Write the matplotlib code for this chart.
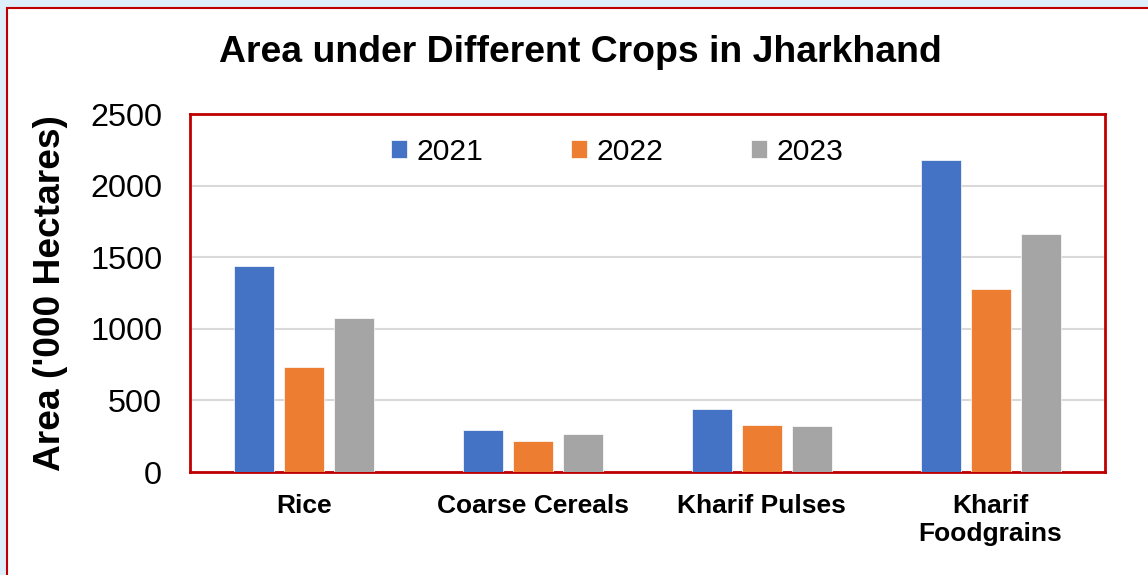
import matplotlib
matplotlib.use("Agg")
import matplotlib.pyplot as plt
import numpy as np
from matplotlib.patches import Rectangle

categories = ["Rice", "Coarse Cereals", "Kharif Pulses", "Kharif\nFoodgrains"]
years = ["2021", "2022", "2023"]
v2021 = [1440, 290, 443, 2177]
v2022 = [735, 214, 331, 1278]
v2023 = [1078, 263, 321, 1660]
colors = ["#4472C4", "#ED7D31", "#A5A5A5"]
yticks = [0, 500, 1000, 1500, 2000, 2500]

plt.rcParams['font.family'] = ['Liberation Sans', 'DejaVu Sans']

W, H = 1148, 575
fig = plt.figure(figsize=(W/100, H/100), dpi=100)
fig.patch.set_facecolor("#DDEFFB")
bg = Rectangle((7/W, -0.1), 1.2, (H-8)/H + 0.1, transform=fig.transFigure,
               facecolor="white", edgecolor="#C00000", linewidth=1.5, zorder=-10)
fig.patches.append(bg)

ax = fig.add_axes([190/W, 1-472/H, 915/W, 358/H])
ax.set_facecolor("white")
x = np.arange(len(categories))
step = 0.219
bw = 0.175
for i, (vals, yr) in enumerate(zip([v2021, v2022, v2023], years)):
    ax.bar(x + (i-1)*step, vals, width=bw, color=colors[i], label=yr,
           edgecolor="white", linewidth=0.5, zorder=3)

ax.set_xlim(-0.5, len(categories)-0.5)
ax.set_ylim(0, 2500)
ax.set_yticks(yticks)
ax.set_yticklabels([str(t) for t in yticks], fontsize=23.3)
ax.set_xticks(x)
ax.set_xticklabels(categories, fontsize=19, fontweight="bold", linespacing=1.22)
ax.tick_params(axis="both", length=0)
ax.tick_params(axis="y", pad=20)
ax.tick_params(axis="x", pad=16)
ax.yaxis.grid(True, color="#D9D9D9", linewidth=1.5, zorder=0)
ax.set_axisbelow(True)
for s in ax.spines.values():
    s.set_color("#C00000")
    s.set_linewidth(2)

ax.set_ylabel("Area ('000 Hectares)", fontsize=26.7, fontweight="bold", labelpad=16)

fig.text(580/W, 1-52/H, "Area under Different Crops in Jharkhand",
         ha="center", va="center", fontsize=26.9, fontweight="bold")

leg = ax.legend(loc="center", bbox_to_anchor=(617/W, 1-152/H), bbox_transform=fig.transFigure,
                ncol=3, frameon=False, fontsize=21.7, handlelength=0.55, handleheight=0.55,
                handletextpad=0.3, columnspacing=2.9, borderpad=0)

fig.savefig("out.png", dpi=100, facecolor=fig.get_facecolor())
